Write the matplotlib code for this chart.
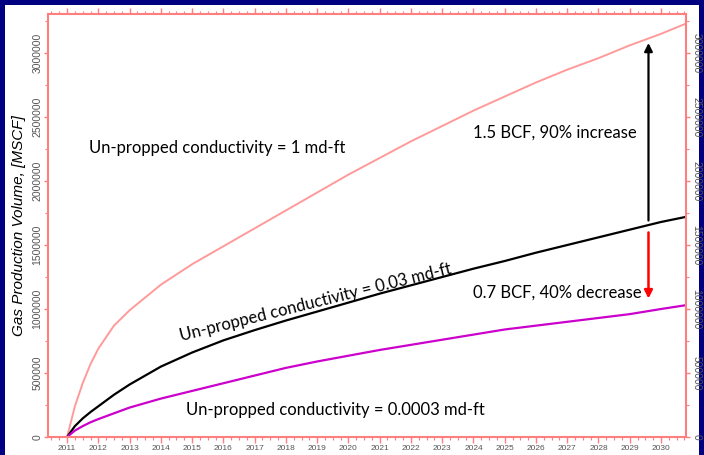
import matplotlib
matplotlib.use("Agg")
import matplotlib.pyplot as plt
from matplotlib.ticker import MultipleLocator, FixedLocator
from matplotlib.patches import Rectangle

# cumulative gas production, MSCF
years = [2011, 2011.25, 2011.5, 2011.75, 2012, 2012.5, 2013, 2014, 2015, 2016, 2017, 2018,
         2019, 2020, 2021, 2022, 2023, 2024, 2025, 2026, 2027, 2028, 2029, 2030, 2030.8]
cond_1 = [0, 240000, 420000, 570000, 690000, 870000, 990000, 1190000, 1350000, 1490000,
          1630000, 1770000, 1910000, 2050000, 2180000, 2310000, 2430000, 2550000, 2660000,
          2770000, 2870000, 2960000, 3060000, 3150000, 3230000]
cond_003 = [0, 85000, 145000, 195000, 240000, 330000, 410000, 550000, 660000, 755000,
            835000, 910000, 980000, 1050000, 1120000, 1185000, 1250000, 1315000, 1375000,
            1440000, 1500000, 1560000, 1620000, 1680000, 1720000]
cond_00003 = [0, 50000, 85000, 115000, 140000, 185000, 230000, 300000, 360000, 420000,
              480000, 540000, 590000, 635000, 680000, 720000, 760000, 800000, 840000,
              870000, 900000, 930000, 960000, 1000000, 1030000]

year_ticks = list(range(2011, 2031))
y_ticks = [0, 500000, 1000000, 1500000, 2000000, 2500000, 3000000]

arrow_x = 2029.6
up_arrow = (1670000, 3100000)
down_arrow = (1620000, 1060000)

spine_red = "#ff7f7f"
tick_font = ["Liberation Sans Narrow", "Liberation Sans", "DejaVu Sans"]
note_font = ["Lato", "DejaVu Sans"]

fig = plt.figure(figsize=(7.04, 4.55), dpi=100, facecolor="#000080")
fig.patches.append(Rectangle((5 / 704, 0), 694 / 704, 450 / 455, transform=fig.transFigure,
                             facecolor="white", edgecolor="none", zorder=-5))
ax = fig.add_axes([48 / 704, 1 - 437 / 455, 638 / 704, 423 / 455])
ax.set_zorder(1)

ax.plot(years, cond_1, color="#ff9a9a", lw=1.4)
ax.plot(years, cond_003, color="black", lw=1.6)
ax.plot(years, cond_00003, color="#cc00cc", lw=1.6)

ax.annotate("", xy=(arrow_x, up_arrow[1]), xytext=(arrow_x, up_arrow[0]),
            arrowprops=dict(arrowstyle="-|>", color="black", lw=1.6, mutation_scale=12))
ax.annotate("", xy=(arrow_x, down_arrow[1]), xytext=(arrow_x, down_arrow[0]),
            arrowprops=dict(arrowstyle="-|>", color="red", lw=1.8, mutation_scale=12))

ax.set_xlim(2010.39, 2030.8)
ax.set_ylim(0, 3305000)

ax.xaxis.set_major_locator(FixedLocator(year_ticks))
ax.xaxis.set_minor_locator(MultipleLocator(0.25))
ax.yaxis.set_major_locator(FixedLocator(y_ticks))
ax.yaxis.set_minor_locator(MultipleLocator(250000))
ax.set_xticklabels([str(y) for y in year_ticks])
ax.set_yticklabels([str(v) for v in y_ticks], rotation=90, va="center")

ax.tick_params(which="both", color=spine_red, labelcolor="#555555",
               top=True, right=True, labelright=True)
ax.tick_params(axis="x", which="major", labelsize=6, length=4, width=1, pad=2)
ax.tick_params(axis="y", which="major", labelsize=7.5, length=3, width=1, pad=1)
ax.tick_params(which="minor", length=2.5, width=0.8)
for lab in ax.get_xticklabels() + ax.get_yticklabels():
    lab.set_family(tick_font)
for t in ax.yaxis.get_major_ticks():
    t.label2.set_rotation(-90)
    t.label2.set_va("center")
    t.label2.set_family(tick_font)
for s in ax.spines.values():
    s.set_color(spine_red)
    s.set_linewidth(1.5)

ax.set_ylabel("Gas Production Volume, [MSCF]", fontsize=11, style="italic",
              family=["Liberation Sans", "DejaVu Sans"])
ax.yaxis.set_label_coords(-0.0345, 0.5)

ax.text(2011.7, 2260000, "Un-propped conductivity = 1 md-ft", fontsize=12,
        family=note_font, va="center", ha="left")
ax.text(2024.0, 2375000, "1.5 BCF, 90% increase", fontsize=12,
        family=note_font, va="center", ha="left")
ax.text(2024.0, 1125000, "0.7 BCF, 40% decrease", fontsize=12,
        family=note_font, va="center", ha="left")
ax.text(2014.8, 210000, "Un-propped conductivity = 0.0003 md-ft", fontsize=12,
        family=note_font, va="center", ha="left")
ax.text(2014.6, 790000, "Un-propped conductivity = 0.03 md-ft", fontsize=12,
        family=note_font, va="center", ha="left", rotation=14, rotation_mode="anchor")

fig.savefig("out.png", dpi=100, facecolor=fig.get_facecolor())
